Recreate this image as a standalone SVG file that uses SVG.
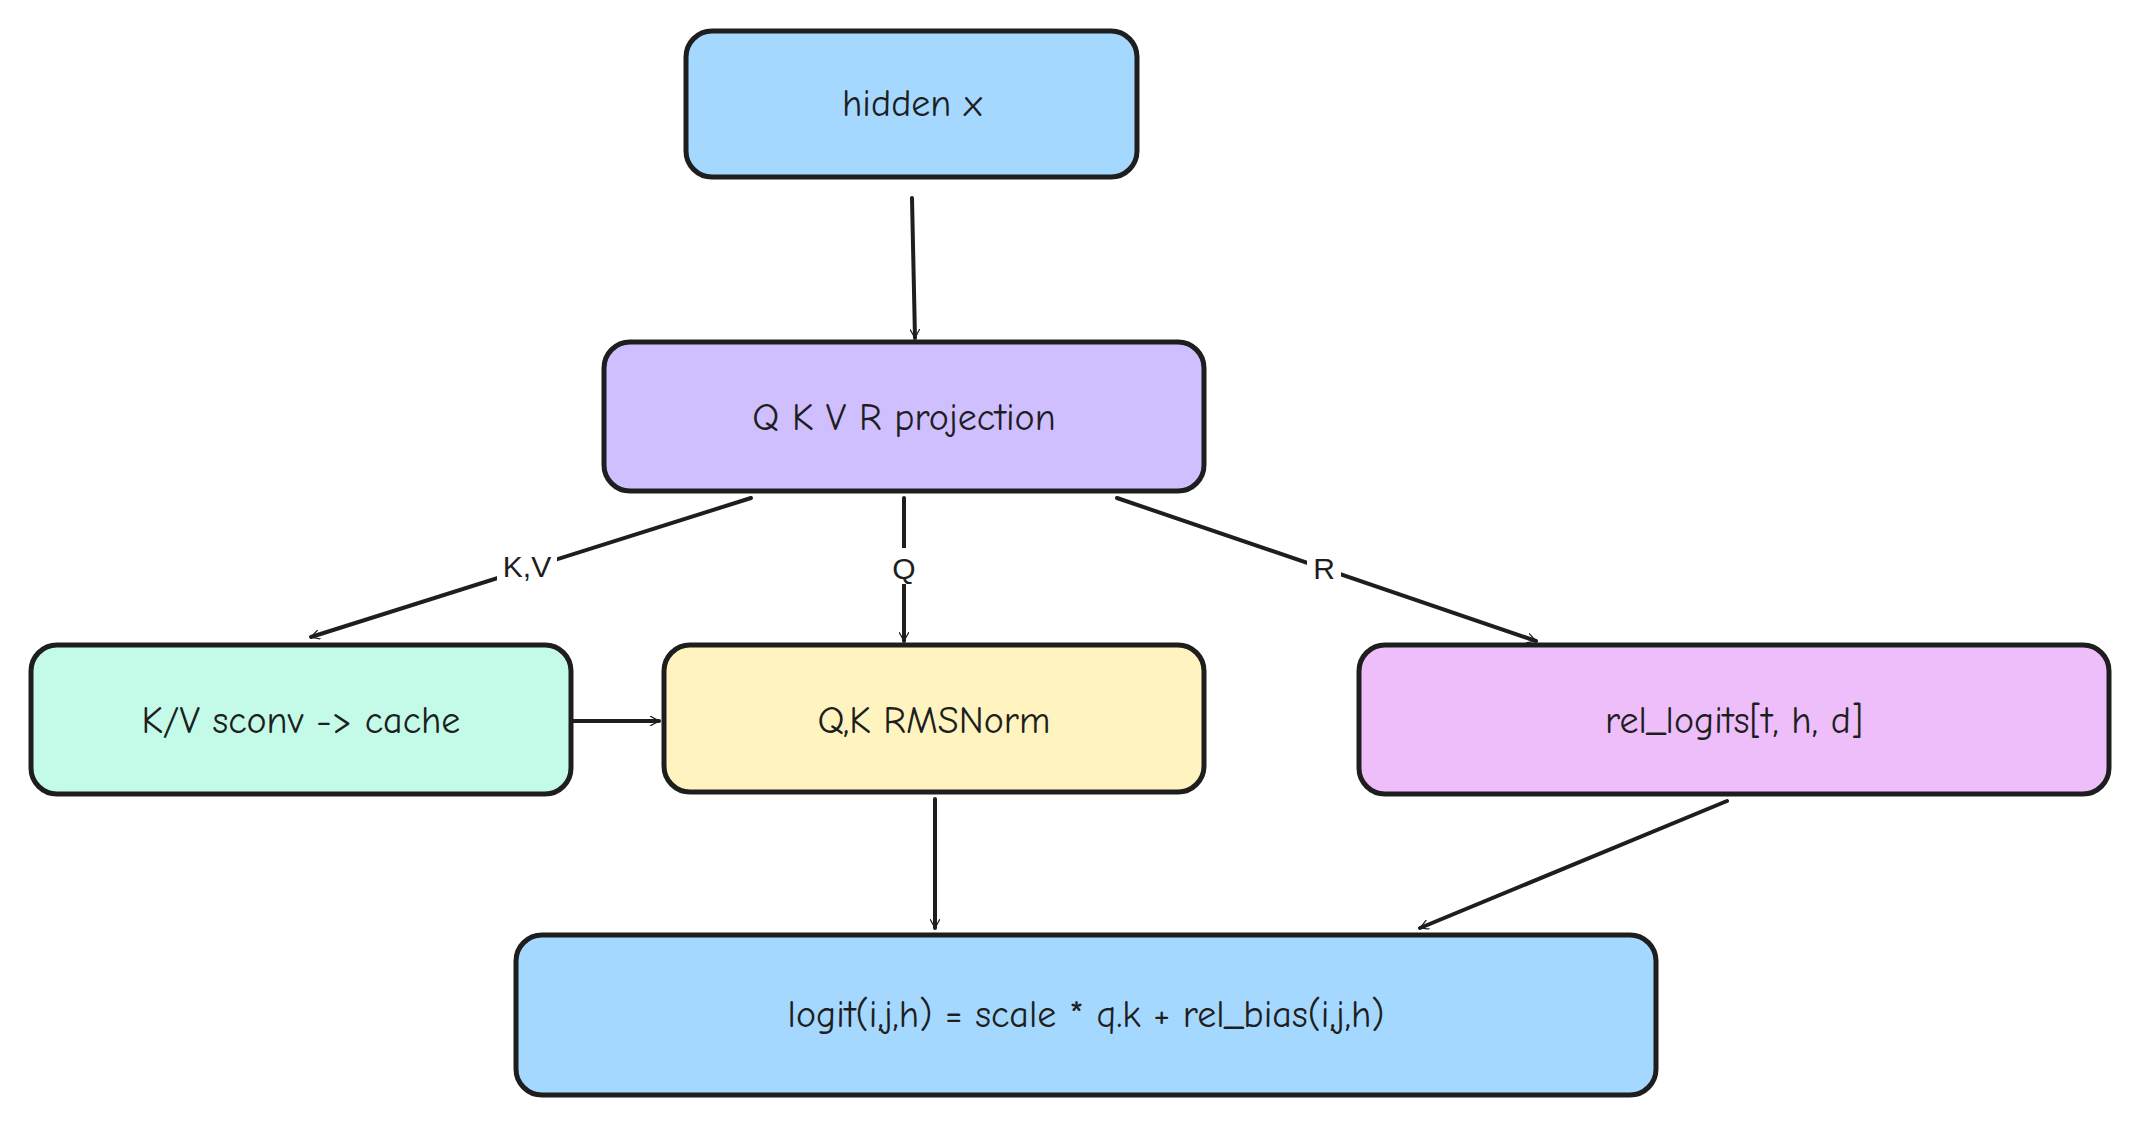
<svg xmlns="http://www.w3.org/2000/svg" width="2130" height="1122" viewBox="0 0 2130 1122">
<style>
.box{stroke:#1e1e1e;stroke-width:5;}
.t{font-family:"Comic Neue","Liberation Sans",sans-serif;font-size:38px;fill:#1e1e1e;text-anchor:middle;dominant-baseline:central;}
.l{font-family:"Liberation Sans",sans-serif;font-size:30px;fill:#1e1e1e;text-anchor:middle;dominant-baseline:central;}
.c{stroke:#1e1e1e;stroke-width:4;fill:none;stroke-linecap:round;}
</style>
<defs>
<marker id="a" viewBox="0 0 20 20" refX="18" refY="10" markerWidth="10" markerHeight="10" orient="auto" markerUnits="userSpaceOnUse">
<path d="M0,0 L18,10 L0,20" fill="none" stroke="#1e1e1e" stroke-width="2.5"/>
</marker>
</defs>
<rect x="0" y="0" width="2130" height="1122" fill="#ffffff"/>
<g id="hidden"><rect class="box" x="686" y="31" width="451" height="146" rx="26" fill="#a5d8ff"/><text class="t" x="912" y="104">hidden x</text></g>
<g id="qkvr"><rect class="box" x="604" y="342" width="600" height="149" rx="26" fill="#d0bfff"/><text class="t" x="904" y="418">Q K V R projection</text></g>
<g id="kv"><rect class="box" x="31" y="645" width="540" height="149" rx="26" fill="#c3fae8"/><text class="t" x="301" y="721">K/V sconv -&gt; cache</text></g>
<g id="rms"><rect class="box" x="664" y="645" width="540" height="147" rx="26" fill="#fff3bf"/><text class="t" x="934" y="721">Q,K RMSNorm</text></g>
<g id="rel"><rect class="box" x="1359" y="645" width="750" height="149" rx="26" fill="#eebefa"/><text class="t" x="1734" y="721">rel_logits[t, h, d]</text></g>
<g id="logit"><rect class="box" x="516" y="935" width="1140" height="160" rx="26" fill="#a5d8ff"/><text class="t" x="1086" y="1015">logit(i,j,h) = scale * q.k + rel_bias(i,j,h)</text></g>
<g id="connectors">
<path class="c" marker-end="url(#a)" d="M912,198 L915,338"/>
<path class="c" marker-end="url(#a)" d="M751,498 L311,637"/>
<path class="c" marker-end="url(#a)" d="M904,498 L904,641"/>
<path class="c" marker-end="url(#a)" d="M1117,498 L1536,641"/>
<path class="c" marker-end="url(#a)" d="M573,721 L659,721"/>
<path class="c" marker-end="url(#a)" d="M935,799 L935,928"/>
<path class="c" marker-end="url(#a)" d="M1727,801 L1420,928"/>
<rect x="497" y="548" width="60" height="36" fill="#ffffff"/><text class="l" x="527" y="566">K,V</text>
<rect x="887" y="548" width="34" height="36" fill="#ffffff"/><text class="l" x="904" y="568">Q</text>
<rect x="1307" y="548" width="34" height="36" fill="#ffffff"/><text class="l" x="1324" y="568">R</text>
</g>
</svg>
